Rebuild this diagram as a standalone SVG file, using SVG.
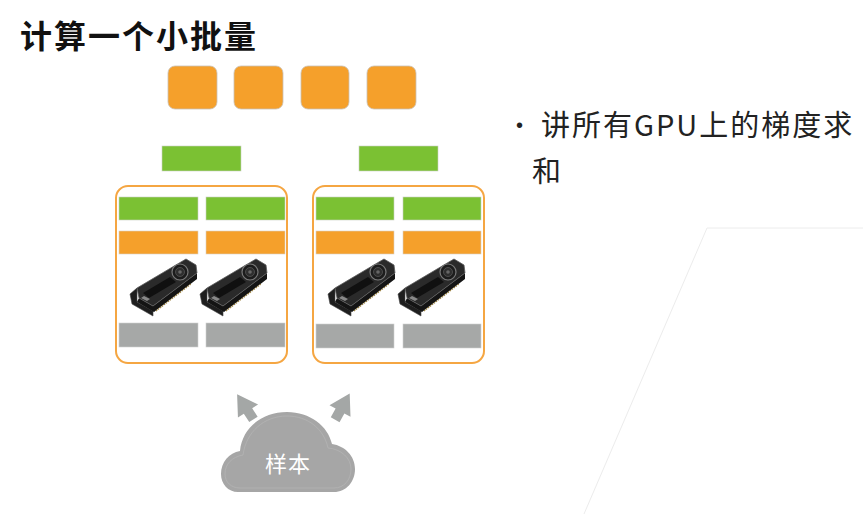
<svg xmlns="http://www.w3.org/2000/svg" xmlns:xlink="http://www.w3.org/1999/xlink" width="863" height="514" viewBox="0 0 863 514">
<style>
.title{font-family:"Noto Sans CJK SC","Liberation Sans",sans-serif;font-weight:700;font-size:32px;fill:#111;letter-spacing:2px}
.body{font-family:"Noto Sans CJK SC","Liberation Sans",sans-serif;font-size:29px;fill:#222;letter-spacing:2px}
.cloudtxt{font-family:"Noto Sans CJK SC","Liberation Sans",sans-serif;font-size:22px;fill:#fff;letter-spacing:1px}
.sq{fill:#f5a02b;stroke:#c8c0b8;stroke-width:0.8}
.gr{fill:#7bc133;stroke:#c9cfc4;stroke-width:0.6}
.or{fill:#f5a02b;stroke:#d9cfc4;stroke-width:0.6}
.gy{fill:#a6a8a7;stroke:#d0d0d0;stroke-width:0.6}
.box{fill:none;stroke:#f5a642;stroke-width:2}
.arrow{fill:#a4a7a6}
</style>
<defs>
<g id="gpu">
<polygon points="1,36 8,30 8,44 24,53 24,58 3,46" fill="#1e1e1e" stroke="#444" stroke-width="0.6"/>
<polygon points="10,40 24,48 68,15 68,21 25,54 8,44" fill="#141414"/>
<polygon points="8,30 57,1 67,7 68,15 24,48 10,40" fill="#2a2a2a" stroke="#5a5a5a" stroke-width="0.8"/>
<polygon points="14,35 41,19 47,24 20,40" fill="#101010"/>
<polygon points="12,40 18,43 21,41 15,38" fill="#888"/>
<line x1="27" y1="53" x2="62" y2="26" stroke="#9a8040" stroke-width="1.2" stroke-dasharray="1.5 1"/>
<circle cx="51" cy="14" r="8" fill="#1c1c1c" stroke="#7a7a7a" stroke-width="1.2"/>
<circle cx="51" cy="14" r="4.5" fill="#2e2e2e" stroke="#555" stroke-width="0.8"/>
<circle cx="51" cy="14" r="1.8" fill="#666"/>
</g>
</defs>
<rect width="863" height="514" fill="#fff"/>
<polyline points="584,514 707,228 863,228" fill="none" stroke="#ececec" stroke-width="1"/>
<text class="title" x="20" y="48">计算一个小批量</text>
<g id="params">
<rect class="sq" x="168" y="66" width="49" height="43" rx="7"/>
<rect class="sq" x="234" y="66" width="49" height="43" rx="7"/>
<rect class="sq" x="301" y="66" width="48" height="43" rx="7"/>
<rect class="sq" x="367" y="66" width="49" height="43" rx="7"/>
</g>
<g id="grad-sum">
<rect class="gr" x="162" y="146" width="79" height="25"/>
<rect class="gr" x="359" y="146" width="79" height="25"/>
</g>
<g id="machine-1">
<rect class="box" x="116" y="186" width="171" height="177" rx="12"/>
<rect class="gr" x="119" y="197" width="79" height="23"/>
<rect class="gr" x="206" y="197" width="79" height="23"/>
<rect class="or" x="119" y="231" width="79" height="23"/>
<rect class="or" x="206" y="231" width="79" height="23"/>
<use xlink:href="#gpu" x="129" y="258"/>
<use xlink:href="#gpu" x="199" y="258"/>
<rect class="gy" x="119" y="323" width="79" height="24"/>
<rect class="gy" x="206" y="323" width="79" height="24"/>
</g>
<g id="machine-2">
<rect class="box" x="313" y="186" width="171" height="177" rx="12"/>
<rect class="gr" x="316" y="197" width="78" height="23"/>
<rect class="gr" x="403" y="197" width="78" height="23"/>
<rect class="or" x="316" y="231" width="78" height="23"/>
<rect class="or" x="403" y="231" width="78" height="23"/>
<use xlink:href="#gpu" x="327" y="258"/>
<use xlink:href="#gpu" x="397" y="258"/>
<rect class="gy" x="316" y="324" width="78" height="24"/>
<rect class="gy" x="403" y="324" width="78" height="24"/>
</g>
<g id="connectors">
<polygon class="arrow" transform="translate(248,411) rotate(-33)" points="0,-20 12,0 5,0 5,10 -5,10 -5,0 -12,0"/>
<polygon class="arrow" transform="translate(340,411) rotate(29)" points="0,-20 12,0 5,0 5,10 -5,10 -5,0 -12,0"/>
</g>
<g id="samples">
<path d="M238,492 C228,492 221,484 221,474 C221,462 229,453 240,451 C242,428 262,412 287,412 C310,412 328,426 332,444 C345,446 355,456 355,469 C355,482 346,492 334,492 Z" fill="#a6a6a6"/>
<path d="M240,488 C231,488 225,482 225,474 C225,464 232,457 243,455 C246,432 264,416 287,416 C308,416 324,429 328,448 C341,449 351,458 351,469 C351,480 344,488 334,488 Z" fill="none" stroke="#b4b4b4" stroke-width="0.8"/>
<text class="cloudtxt" x="288" y="472" text-anchor="middle">样本</text>
</g>
<g id="note">
<text x="516" y="132" style="font-family:'Liberation Sans',sans-serif;font-size:20px;fill:#222">•</text>
<text class="body" x="541" y="136">讲所有GPU上的梯度求</text>
<text class="body" x="532" y="182">和</text>
</g>
</svg>
